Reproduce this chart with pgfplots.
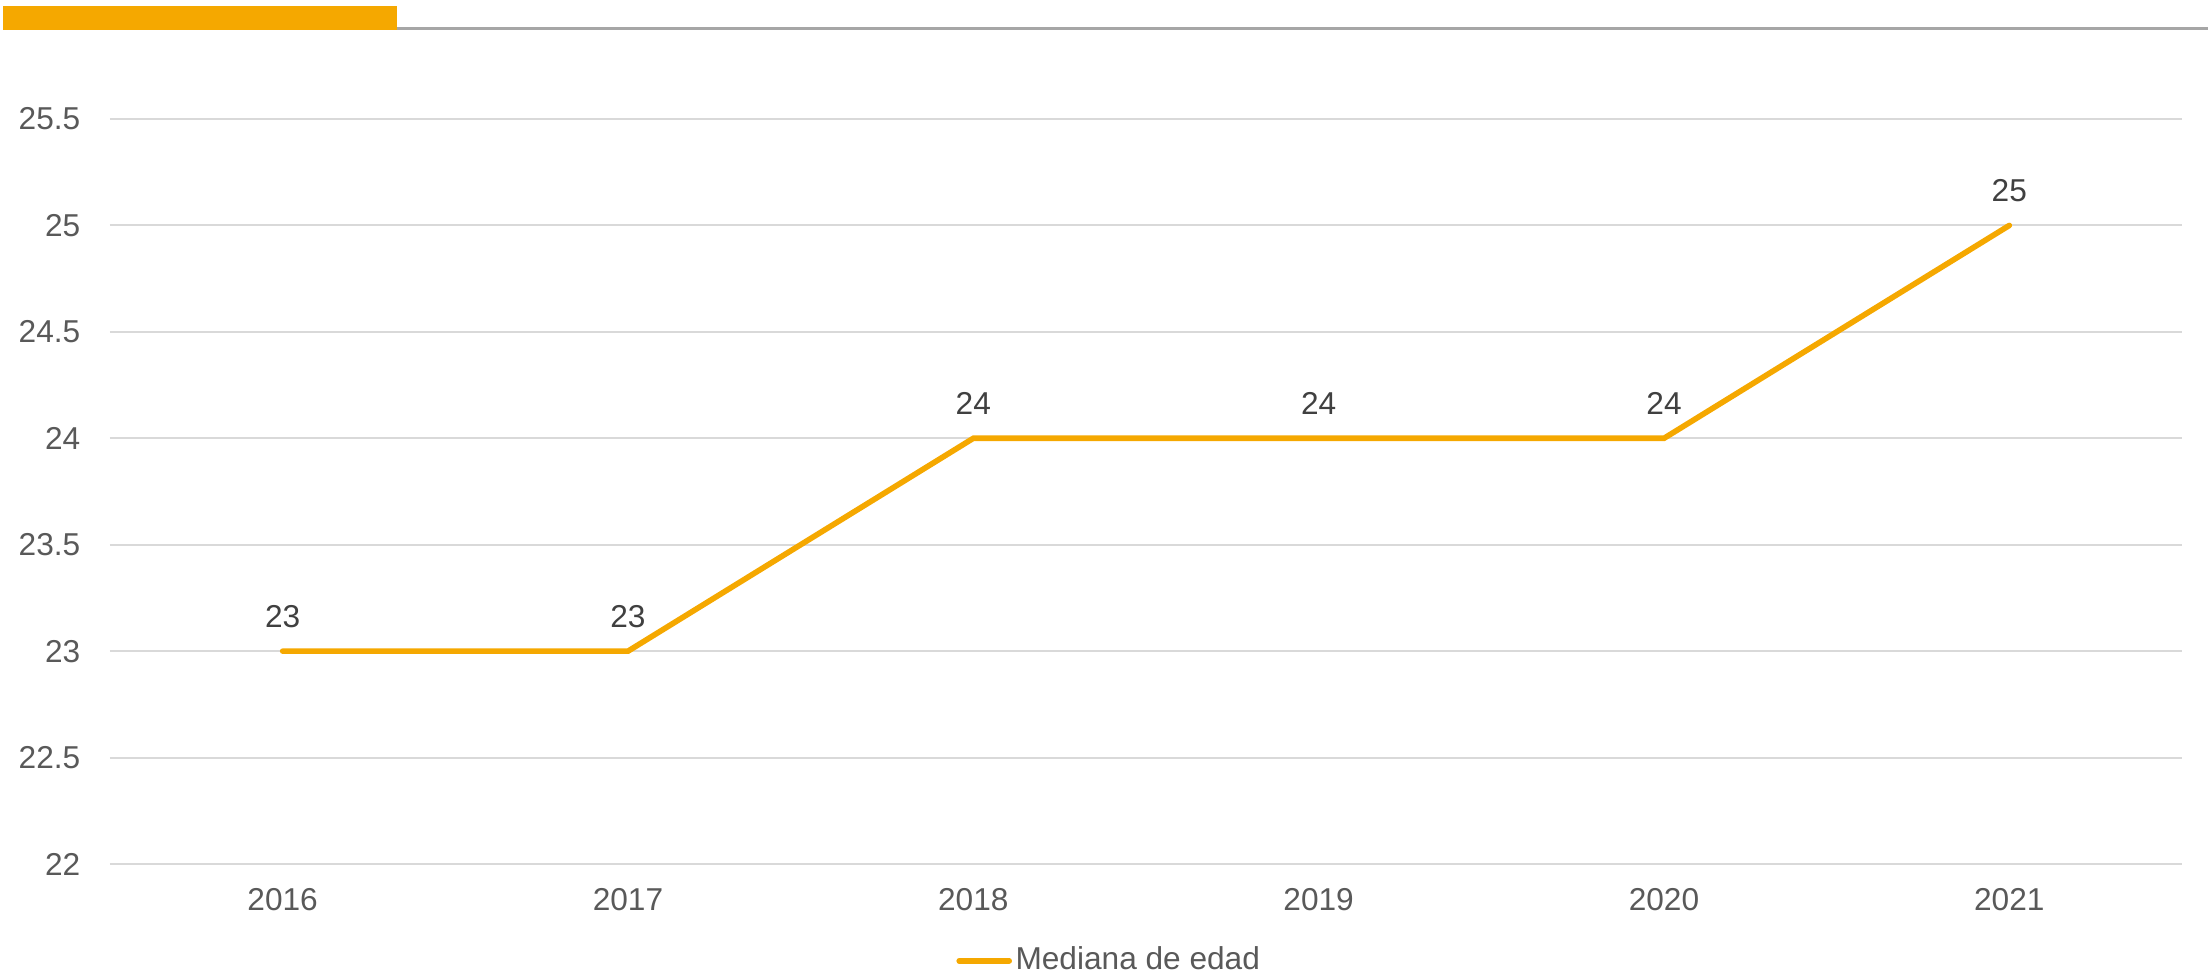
\documentclass[border=0pt]{standalone}
\usepackage{fontspec}
\setmainfont{Liberation Sans}
\usepackage{pgfplots}
\pgfplotsset{compat=1.18}

\definecolor{naranja}{HTML}{F5A800}
\definecolor{rejilla}{HTML}{D9D9D9}
\definecolor{textogris}{HTML}{595959}
\definecolor{etiqueta}{HTML}{404040}
\definecolor{lineagris}{HTML}{A6A6A6}

\begin{document}
\begin{tikzpicture}
\begin{axis}[
    at={(0,0)}, anchor=south west,
    scale only axis,
    width=20.72cm, height=7.45cm,
    xmin=-0.5, xmax=5.5,
    ymin=22, ymax=25.5,
    ytick={22,22.5,...,25.5},
    xtick={0,1,2,3,4,5},
    xticklabels={2016,2017,2018,2019,2020,2021},
    axis line style={draw=none},
    tick style={draw=none},
    ymajorgrids,
    grid style={rejilla, line width=0.6pt},
    font=\fontsize{9pt}{11pt}\selectfont,
    /pgf/number format/assume math mode=true,
    ticklabel style={text=textogris, font=\fontsize{9pt}{11pt}\selectfont},
    yticklabel style={anchor=east, inner sep=0pt, xshift=-0.29cm},
    xticklabel style={anchor=north, inner sep=0pt, yshift=-0.24cm},
    clip=false,
    legend style={draw=none, fill=none, at={(0.4826,-0.13)}, anchor=center,
        font=\fontsize{9pt}{11pt}\selectfont, text=textogris,
        nodes={inner sep=1pt}},
    legend image code/.code={\draw[#1, line cap=round] (0.05cm,0cm) -- (0.55cm,0cm);},
    nodes near coords,
    nodes near coords style={anchor=south, inner sep=0pt, yshift=0.21cm,
        text=etiqueta, font=\fontsize{9pt}{11pt}\selectfont},
    point meta=explicit symbolic,
]
\addplot[naranja, line width=1.6pt, line cap=round, mark=none] coordinates {
    (0,23) [23] (1,23) [23] (2,24) [24] (3,24) [24] (4,24) [24] (5,25) [25]
};
\addlegendentry{Mediana de edad}
\end{axis}
% franja del encabezado
\fill[naranja] (-1.07,8.34) rectangle (2.87,8.58);
\draw[lineagris, line width=0.85pt] (2.87,8.355) -- (20.98,8.355);
\pgfresetboundingbox
\path[use as bounding box] (-1.10,-1.11) rectangle (20.98,8.64);
\end{tikzpicture}
\end{document}
